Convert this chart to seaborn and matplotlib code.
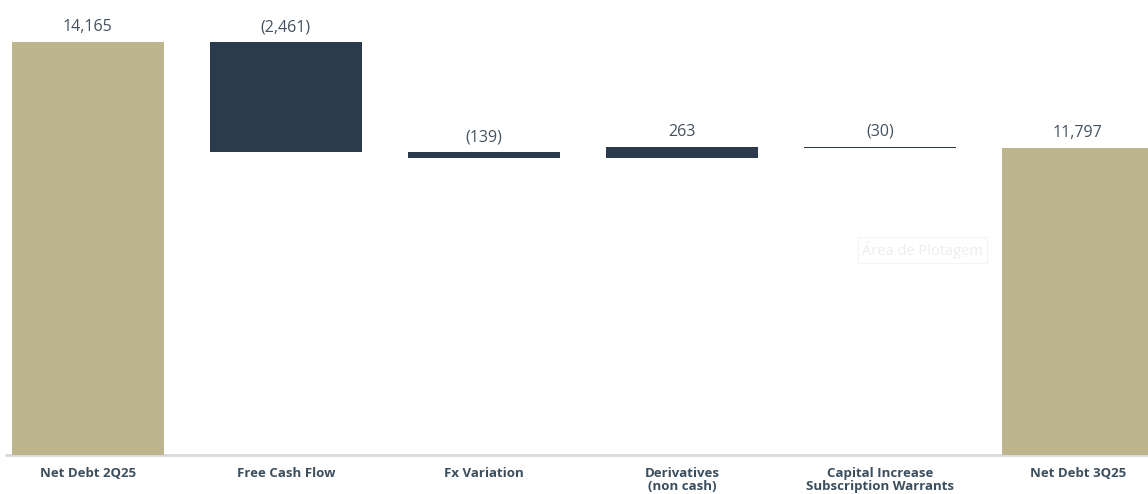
import numpy as np
import matplotlib
matplotlib.use("Agg")
import matplotlib.pyplot as plt
import seaborn as sns

# ================================
# Data
# ================================
categories = ["Net Debt 2Q25", "Free Cash Flow", "Fx Variation",
              "Derivatives\n(non cash)", "Capital Increase\nSubscription Warrants",
              "Net Debt 3Q25"]
values = [14165, -2461, -139, 263, -30, 11797]
is_total = [True, False, False, False, False, True]
value_labels = ["14,165", "(2,461)", "(139)", "263", "(30)", "11,797"]

TOTAL_COLOR = "#BDB58E"
STEP_COLOR = "#2B3B4B"
TEXT_COLOR = "#44525F"

# waterfall bottoms / heights
bottoms, heights = [], []
running = 0
for v, tot in zip(values, is_total):
    if tot:
        bottoms.append(0)
        heights.append(v)
        running = v
    else:
        new = running + v
        bottoms.append(min(running, new))
        heights.append(abs(v))
        running = new

# ================================
# Plot
# ================================
sns.set_style("white")
plt.rcParams["font.family"] = ["Open Sans", "DejaVu Sans"]

fig = plt.figure(figsize=(11.48, 4.94), dpi=100)
ax = fig.add_axes([0, 0.079, 1, 0.921])

sns.barplot(x=list(range(len(categories))), y=heights, bottom=bottoms,
            width=0.77, color=STEP_COLOR, saturation=1, ax=ax)

for patch, tot in zip(ax.patches, is_total):
    patch.set_facecolor(TOTAL_COLOR if tot else STEP_COLOR)
    patch.set_edgecolor("none")

ax.set_xlim(-0.444, 5.354)
ax.set_ylim(4938, 15103)

# value labels
for i, (b, h, lab) in enumerate(zip(bottoms, heights, value_labels)):
    ax.annotate(lab, (i, b + h), xytext=(0, 5), textcoords="offset points",
                ha="center", va="bottom", fontsize=11.5, color=TEXT_COLOR)

ax.set_xticks(range(len(categories)))
ax.set_xticklabels(categories, fontsize=9.5, fontweight="bold", color="#3B4E5E",
                   linespacing=1.0)
ax.tick_params(axis="x", length=0, pad=9)
ax.set_yticks([])
ax.set_xlabel("")
ax.set_ylabel("")

sns.despine(ax=ax, left=True, top=True, right=True, bottom=True)
ax.axhline(4938, xmin=0.005, xmax=1, color="#D9D9D9", lw=2, zorder=0, clip_on=False)

# faint Excel hover tip left in the original
ax.text(3.91, 9520, "Área de Plotagem", fontsize=10.5, color="#EDEDED",
        ha="left", va="center",
        bbox=dict(boxstyle="square,pad=0.3", fc="white", ec="#F4F4F4", lw=0.8))

fig.savefig("out.png", dpi=100)
